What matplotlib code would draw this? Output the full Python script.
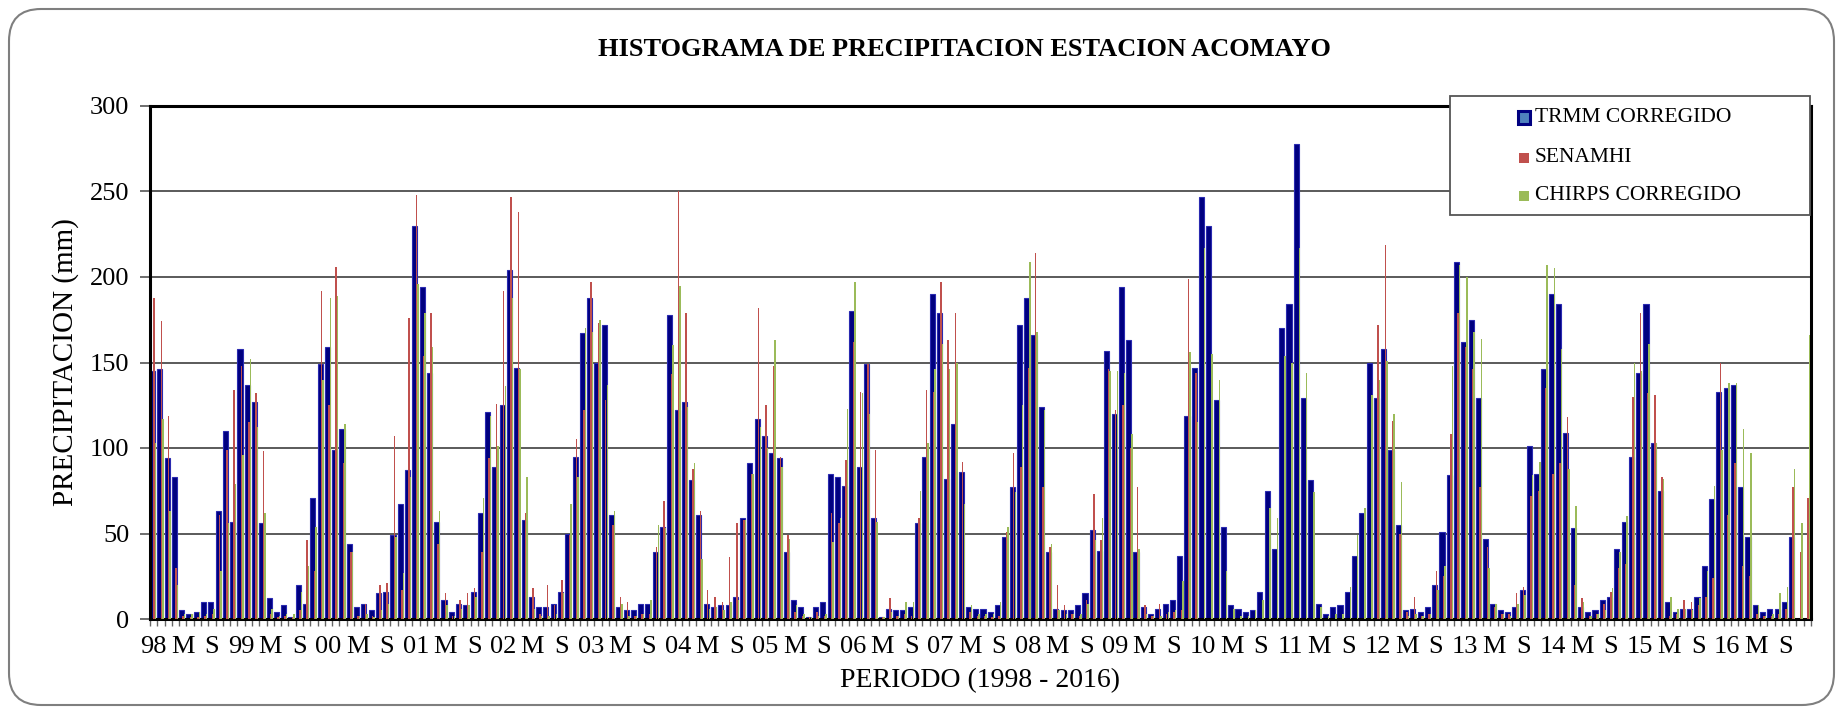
import numpy as np
import matplotlib
matplotlib.use("Agg")
import matplotlib.pyplot as plt
from matplotlib.patches import Rectangle, FancyBboxPatch

plt.rcParams['font.family'] = ['Liberation Serif', 'DejaVu Serif']

nan = np.nan

# monthly precipitation (mm), Jan 1998 - Dec 2016
trmm = [
    145, 146, 94, 83, 5, 3, 4, 10, 10, 63, 110, 57,      # 1998
    158, 137, 127, 56, 12, 4, 8, 1, 20, 9, 71, 149,      # 1999
    159, 99, 111, 44, 7, 9, 5, 15, 16, 49, 67, 87,       # 2000
    230, 194, 144, 57, 11, 4, 9, 8, 16, 62, 121, 89,     # 2001
    125, 204, 147, 58, 13, 7, 7, 9, 16, 50, 95, 167,     # 2002
    188, 150, 172, 61, 7, 5, 5, 9, 9, 39, 54, 178,       # 2003
    122, 127, 81, 61, 9, 7, 8, 8, 13, 59, 91, 117,       # 2004
    107, 97, 94, 39, 11, 7, 1, 7, 10, 85, 83, 78,        # 2005
    180, 89, 149, 59, 1, 6, 5, 5, 7, 56, 95, 190,        # 2006
    179, 82, 114, 86, 7, 6, 6, 4, 8, 48, 77, 172,        # 2007
    188, 166, 124, 39, 6, 5, 5, 8, 15, 52, 40, 157,      # 2008
    120, 194, 163, 39, 7, 3, 6, 9, 11, 37, 119, 147,     # 2009
    247, 230, 128, 54, 8, 6, 4, 5, 16, 75, 41, 170,      # 2010
    184, 278, 129, 81, 9, 3, 7, 8, 16, 37, 62, 150,      # 2011
    129, 158, 99, 55, 5, 6, 4, 7, 20, 51, 84, 209,       # 2012
    162, 175, 129, 47, 9, 5, 4, 7, 17, 101, 85, 146,     # 2013
    190, 184, 109, 53, 7, 4, 5, 11, 13, 41, 57, 95,      # 2014
    144, 184, 103, 75, 10, 4, 6, 6, 13, 31, 70, 133,     # 2015
    135, 137, 77, 48, 8, 4, 6, 6, 10, 48, nan, nan,      # 2016
]

senamhi = [
    188, 174, 119, 30, 2, 1, 1, 2, 3, 61, 99, 134,
    148, 115, 132, 98, 3, 1, 2, 1, 5, 46, 28, 192,
    125, 206, 91, 39, 2, 9, 2, 20, 21, 107, 17, 176,
    248, 154, 179, 44, 15, 2, 11, 15, 18, 39, 94, 126,
    192, 247, 238, 62, 18, 3, 20, 8, 23, 49, 105, 122,
    197, 173, 128, 55, 13, 10, 2, 3, 3, 42, 69, 143,
    250, 179, 88, 63, 17, 13, 10, 36, 56, 58, 85, 182,
    125, 148, 95, 49, 4, 2, 1, 4, 2, 62, 56, 93,
    162, 133, 149, 99, 1, 12, 2, 3, 2, 59, 134, 133,
    197, 163, 179, 92, 4, 2, 2, 1, 2, 51, 97, 89,
    147, 214, 77, 42, 20, 8, 3, 2, 11, 73, 46, 146,
    122, 125, 100, 77, 8, 2, 9, 3, 4, 5, 199, 144,
    nan, nan, nan, nan, nan, nan, nan, nan, nan, nan, nan, nan,
    nan, nan, nan, nan, nan, nan, nan, nan, nan, nan, nan, nan,
    172, 219, 116, 50, 4, 13, 2, 3, 28, 25, 108, 179,
    159, 146, 77, 42, 7, 3, 3, 15, 19, 72, 75, 135,
    85, 91, 118, 20, 12, 2, 3, 9, 16, 30, 32, 130,
    179, 132, 131, 83, 2, 3, 11, 10, 8, 13, 24, 150,
    61, 91, 31, 25, 3, 2, 2, 3, 6, 77, 39, 71,
]

chirps = [
    103, 117, 63, 20, 3, 3, 4, 3, 6, 28, 56, 79,
    96, 152, 112, 62, 6, 2, 3, 3, 16, 31, 54, 140,
    188, 189, 114, 39, 2, 3, 1, 5, 9, 48, 27, 83,
    196, 179, 159, 63, 8, 2, 6, 8, 13, 71, 119, 101,
    136, 188, 146, 83, 6, 2, 2, 3, 15, 67, 83, 170,
    168, 175, 137, 63, 9, 2, 2, 3, 11, 55, 53, 160,
    195, 124, 91, 35, 6, 7, 5, 10, 11, 58, 85, 112,
    100, 163, 89, 47, 8, 3, 1, 2, 3, 45, 59, 123,
    197, 132, 120, 57, 1, 4, 2, 10, 10, 75, 103, 146,
    161, 146, 150, 67, 8, 3, 3, 3, 10, 54, 74, 125,
    209, 168, 122, 44, 5, 3, 3, 3, 9, 46, 59, 145,
    145, 144, 108, 41, 3, 2, 2, 4, 5, 22, 156, 115,
    217, 155, 140, 28, 6, 2, 2, 5, 11, 65, 59, 154,
    150, 217, 144, 74, 7, 2, 3, 3, 19, 49, 65, 131,
    140, 151, 120, 80, 2, 3, 2, 3, 17, 31, 148, 207,
    200, 168, 164, 30, 9, 3, 2, 9, 14, 84, 92, 207,
    205, 158, 88, 66, 10, 2, 3, 5, 18, 39, 60, 150,
    145, 161, 103, 82, 13, 6, 6, 5, 12, 28, 78, 99,
    138, 138, 111, 97, 8, 2, 3, 15, 19, 88, 56, 166,
]

years = ['98', '99', '00', '01', '02', '03', '04', '05', '06', '07',
         '08', '09', '10', '11', '12', '13', '14', '15', '16']
series_names = ['TRMM CORREGIDO', 'SENAMHI', 'CHIRPS CORREGIDO']

c_trmm = '#000080'
c_sen = '#C0504D'
c_chi = '#9BBB59'

W, H = 1843, 715
fig = plt.figure(figsize=(W / 100, H / 100), dpi=100)
ax = fig.add_axes([150 / W, 1 - 619 / H, (1811 - 150) / W, (619 - 106) / H])

x = np.arange(len(trmm))
ax.bar(x - 0.15, trmm, width=0.7, color=c_trmm, edgecolor='#2a2ab0',
       linewidth=0.8, zorder=2)
ax.bar(x + 0.06, senamhi, width=0.2, color=c_sen, linewidth=0, zorder=3)
ax.bar(x + 0.27, chirps, width=0.2, color=c_chi, linewidth=0, zorder=4)

ax.set_xlim(-0.5, len(trmm) - 0.5)
ax.set_ylim(0, 300)
ax.set_yticks(np.arange(0, 301, 50))
ax.yaxis.grid(True, color='#4d4d4d', linewidth=1.3, zorder=0)
ax.set_axisbelow(True)
ax.tick_params(axis='y', labelsize=19, length=7, width=1.2, color='#555555', pad=8)

# labels at Jan / May / Sep of every year
pos, labs = [], []
for k, yy in enumerate(years):
    for m, lab in zip((0, 4, 8), (yy, 'M', 'S')):
        pos.append(12 * k + m)
        labs.append(lab)
ax.set_xticks(pos, labs)
ax.set_xticks(np.arange(-0.5, len(trmm)), minor=True)
ax.tick_params(axis='x', which='major', length=0, labelsize=19, pad=12)
ax.tick_params(axis='x', which='minor', length=5, width=1, color='#666666')

for s in ax.spines.values():
    s.set_linewidth(2.2)
    s.set_color('black')

ax.set_ylabel('PRECIPITACION (mm)', fontsize=21)
ax.yaxis.set_label_coords(-0.043, 0.5)
ax.set_xlabel('PERIODO (1998 - 2016)', fontsize=20)
ax.xaxis.set_label_coords(0.5, -0.095)

fig.text(964 / W, 1 - 50 / H, 'HISTOGRAMA DE PRECIPITACION ESTACION ACOMAYO',
         ha='center', va='center', fontsize=19, fontweight='bold')

# legend box
fig.patches.append(Rectangle((1450 / W, 1 - 215 / H), 360 / W, 119 / H,
                             transform=fig.transFigure, facecolor='white',
                             edgecolor='#555555', linewidth=1.3, zorder=5))
leg_y = [117.5, 157.5, 196]
fig.patches.append(Rectangle(((1524 - 6) / W, 1 - (leg_y[0] + 6) / H), 12 / W, 12 / H,
                             transform=fig.transFigure, facecolor='#4F81BD',
                             edgecolor=c_trmm, linewidth=2.2, zorder=6))
for yy, col in zip(leg_y[1:], (c_sen, c_chi)):
    fig.patches.append(Rectangle(((1524 - 5) / W, 1 - (yy + 5) / H), 10 / W, 10 / H,
                                 transform=fig.transFigure, facecolor=col,
                                 linewidth=0, zorder=6))
for yy, name in zip(leg_y, series_names):
    fig.text(1535 / W, 1 - yy / H, name, ha='left', va='center',
             fontsize=15.5, zorder=7)

# rounded outer frame
fig.patches.append(FancyBboxPatch((0.09, 0.10), 18.25, 6.96,
                                  boxstyle='round,pad=0,rounding_size=0.32',
                                  transform=fig.dpi_scale_trans, facecolor='none',
                                  edgecolor='#7f7f7f', linewidth=1.5, zorder=8))

fig.savefig('out.png', dpi=100)
